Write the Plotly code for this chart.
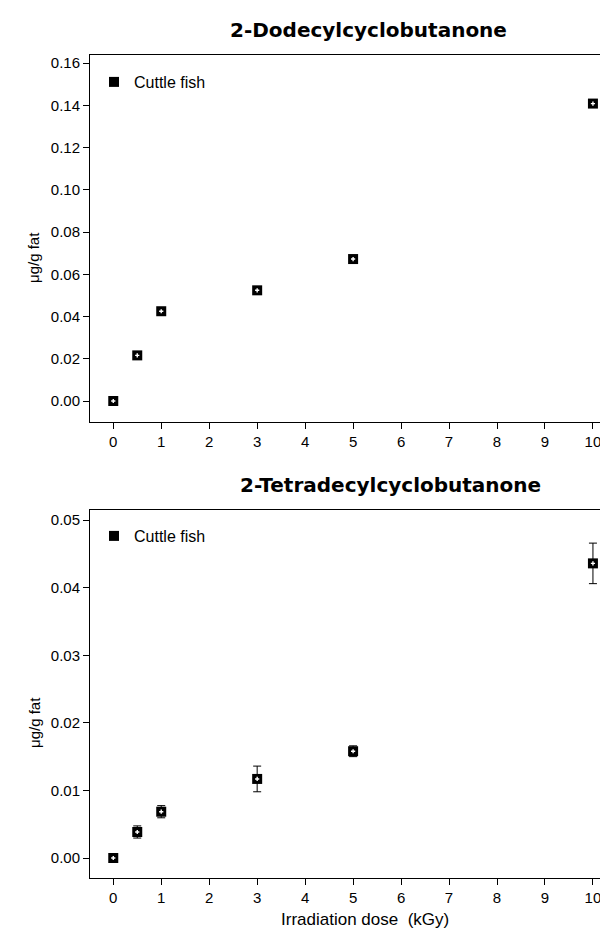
import plotly.graph_objects as go

dose = [0, 0.5, 1, 3, 5, 10]
dodecyl = [0.0, 0.0216, 0.0425, 0.0524, 0.0672, 0.1408]
tetradecyl = [0.0, 0.00385, 0.00685, 0.0117, 0.0158, 0.0436]
tetradecyl_err = [0.0003, 0.0009, 0.0009, 0.0019, 0.0008, 0.003]
x_ticks = [0, 1, 2, 3, 4, 5, 6, 7, 8, 9, 10]
series_name = "Cuttle fish"
title_top = "2-Dodecylcyclobutanone"
title_bottom = "2-Tetradecylcyclobutanone"
y_title = "μg/g fat"
x_title = "Irradiation dose  (kGy)"

W, H = 608, 936
L, R = 82, 1
PW = W - L - R
FONT = "Liberation Sans, Arial, sans-serif"
TFONT = "DejaVu Sans, Liberation Sans, sans-serif"

def py(px):
    return 1 - px / H

def pxx(px):
    return (px - L) / PW

fig = go.Figure()

# top panel
fig.add_trace(go.Scatter(x=dose, y=dodecyl, mode="markers", name=series_name,
                         marker=dict(symbol="square", size=10, color="black"),
                         xaxis="x", yaxis="y", legend="legend"))
fig.add_trace(go.Scatter(x=dose, y=dodecyl, mode="markers", showlegend=False,
                         marker=dict(symbol="cross", size=3.5, color="white"),
                         xaxis="x", yaxis="y", hoverinfo="skip"))
# bottom panel
fig.add_trace(go.Scatter(x=dose, y=tetradecyl, mode="markers", name=series_name,
                         marker=dict(symbol="square", size=10, color="black"),
                         error_y=dict(type="data", array=tetradecyl_err, visible=True,
                                      color="black", thickness=1, width=4),
                         xaxis="x2", yaxis="y2", legend="legend2"))
fig.add_trace(go.Scatter(x=dose, y=tetradecyl, mode="markers", showlegend=False,
                         marker=dict(symbol="cross", size=3.5, color="white"),
                         xaxis="x2", yaxis="y2", hoverinfo="skip"))

axis_common = dict(showgrid=False, zeroline=False, showline=True, linecolor="black",
                   linewidth=1, mirror=True, ticks="outside", ticklen=6, tickwidth=1,
                   tickcolor="black", tickfont=dict(family=FONT, size=15, color="black"))

legend_common = dict(xanchor="left", yanchor="top", bgcolor="rgba(0,0,0,0)",
                     font=dict(family=FONT, size=16, color="black"))

fig.update_layout(
    width=W, height=H,
    margin=dict(l=L, r=R, t=0, b=0),
    paper_bgcolor="white", plot_bgcolor="white",
    font=dict(family=FONT, color="black"),
    xaxis=dict(axis_common, domain=[0, 1], range=[-0.485, 10.46], tickvals=x_ticks,
               anchor="y"),
    yaxis=dict(axis_common, domain=[py(414), py(47)], range=[-0.00994, 0.1638],
               tickvals=[0, 0.02, 0.04, 0.06, 0.08, 0.10, 0.12, 0.14, 0.16],
               tickformat=".2f", anchor="x"),
    xaxis2=dict(axis_common, domain=[0, 1], range=[-0.485, 10.46], tickvals=x_ticks,
                anchor="y2"),
    yaxis2=dict(axis_common, domain=[py(870), py(502)], range=[-0.00296, 0.0515],
                tickvals=[0, 0.01, 0.02, 0.03, 0.04, 0.05], tickformat=".2f",
                anchor="x2"),
    legend=dict(legend_common, x=pxx(86), y=py(57)),
    legend2=dict(legend_common, x=pxx(86), y=py(511)),
    annotations=[
        dict(text="<b>" + title_top + "</b>", xref="paper", yref="paper",
             x=pxx(360), y=py(22), xanchor="center", yanchor="middle",
             showarrow=False, font=dict(family=TFONT, size=20, color="black")),
        dict(text="<b>" + title_bottom + "</b>", xref="paper", yref="paper",
             x=pxx(382), y=py(477), xanchor="center", yanchor="middle",
             showarrow=False, font=dict(family=TFONT, size=20, color="black")),
        dict(text=y_title, xref="paper", yref="paper", x=pxx(26),
             y=py(249), xanchor="center", yanchor="middle", textangle=-90,
             showarrow=False, font=dict(family=FONT, size=15, color="black")),
        dict(text=y_title, xref="paper", yref="paper", x=pxx(26),
             y=py(714), xanchor="center", yanchor="middle", textangle=-90,
             showarrow=False, font=dict(family=FONT, size=15, color="black")),
        dict(text=x_title, xref="paper", yref="paper", x=pxx(357),
             y=py(911), xanchor="center", yanchor="middle",
             showarrow=False, font=dict(family=FONT, size=17, color="black")),
    ],
)

fig.write_html("out.html")
